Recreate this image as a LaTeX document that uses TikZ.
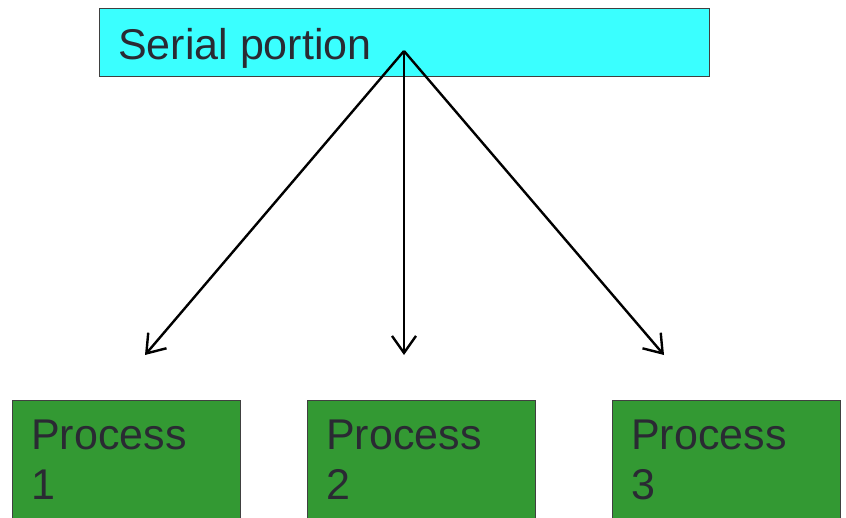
\documentclass[tikz,border=0pt]{standalone}
\usepackage{fontspec}
\setmainfont{Liberation Sans}
\usetikzlibrary{arrows.meta}
\definecolor{serialfill}{HTML}{3AFFFF}
\definecolor{procfill}{HTML}{339933}
\definecolor{boxline}{HTML}{404040}
\definecolor{labeltext}{HTML}{2A2A33}
\begin{document}
\begin{tikzpicture}[x=1pt,y=-1pt,
  serialbox/.style={draw=boxline,line width=0.8pt,fill=serialfill,anchor=north west,
    minimum width=610pt,minimum height=68pt,inner sep=0pt},
  procbox/.style={draw=boxline,line width=0.8pt,fill=procfill,anchor=north west,
    minimum width=228pt,minimum height=140pt,inner sep=0pt},
  boxlabel/.style={anchor=north west,inner sep=0pt,align=left,text=labeltext,
    font=\fontsize{43}{50}\selectfont},
  fork/.style={line width=2.4pt,-{Straight Barb[length=17pt,width=24pt,line width=2.4pt]}}]
\useasboundingbox (0,0) rectangle (846,517);
\clip (0,0) rectangle (846,517);
% serial stage
\node[serialbox] (serial) at (99,8) {};
\node[boxlabel] (seriallabel) at (118,28) {Serial portion};
\coordinate (src) at (404,51);
% parallel processes
\node[procbox] (p1) at (12,400) {};
\node[procbox] (p2) at (307,400) {};
\node[procbox] (p3) at (612,400) {};
\node[boxlabel] (l1) at (31,420) {Process\\1};
\node[boxlabel] (l2) at (326,420) {Process\\2};
\node[boxlabel] (l3) at (631,420) {Process\\3};
% fork arrows
\coordinate (t1) at (145,355);
\coordinate (t2) at (404,355);
\coordinate (t3) at (664,355);
\draw[fork] (src) -- (t1);
\draw[fork] (src) -- (t2);
\draw[fork] (src) -- (t3);
\end{tikzpicture}
\end{document}
